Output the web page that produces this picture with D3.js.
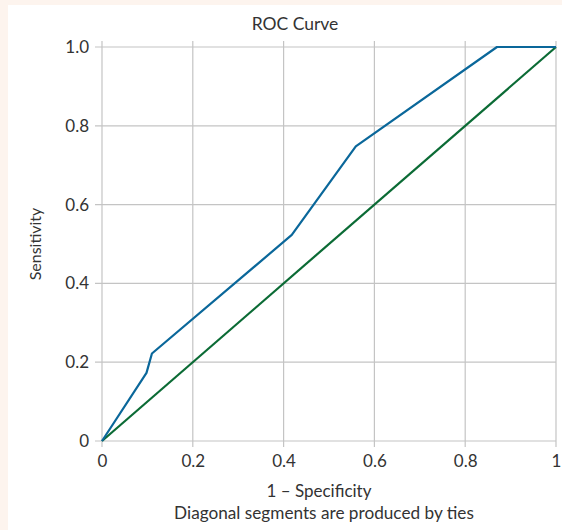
<!DOCTYPE html>
<html>
<head>
<meta charset="utf-8">
<script src="https://cdn.jsdelivr.net/npm/d3@7"></script>
<style>
  html, body { margin: 0; padding: 0; background: #fdf4ee; }
  svg { display: block; }
  text { font-family: "Lato", "Open Sans", sans-serif; fill: #333; }
</style>
</head>
<body>
<svg id="chart"></svg>
<script>
// ROC curve points (1 - specificity, sensitivity)
const fpr = [0, 0.098, 0.110, 0.418, 0.559, 0.870, 1];
const tpr = [0, 0.173, 0.222, 0.523, 0.748, 1, 1];
// reference diagonal
const refLine = [0, 1];
const ticks = [0, 0.2, 0.4, 0.6, 0.8, 1];

const width = 562, height = 530;
const margin = { top: 47, right: 6, bottom: 89, left: 102 };

const svg = d3.select("#chart")
    .attr("width", width)
    .attr("height", height);

// white panel on the peach background
svg.append("rect")
    .attr("x", 8)
    .attr("y", 5)
    .attr("width", width - 8)
    .attr("height", height - 5)
    .attr("fill", "#fff");

const x = d3.scaleLinear().domain([0, 1]).range([margin.left, width - margin.right]);
const y = d3.scaleLinear().domain([0, 1]).range([height - margin.bottom, margin.top]);

// grid
const grid = svg.append("g").attr("stroke", "#c4c4c4").attr("stroke-width", 1.2);
grid.selectAll(".gx").data(ticks).join("line")
    .attr("x1", d => x(d)).attr("x2", d => x(d))
    .attr("y1", y(1) - 6).attr("y2", y(0) + 6);
grid.selectAll(".gy").data(ticks).join("line")
    .attr("x1", x(0) - 7).attr("x2", x(1))
    .attr("y1", d => y(d)).attr("y2", d => y(d));

// x axis labels
const xAxis = d3.axisBottom(x).tickValues(ticks).tickSize(0).tickPadding(14)
    .tickFormat(d => d === 0 ? "0" : d === 1 ? "1" : d3.format(".1f")(d));
svg.append("g")
    .attr("transform", `translate(0,${y(0)})`)
    .call(xAxis)
    .call(g => g.select(".domain").remove())
    .call(g => g.selectAll("text").attr("font-size", 17).attr("fill", "#333"));

const yAxis = d3.axisLeft(y).tickValues(ticks).tickSize(0).tickPadding(13)
    .tickFormat(d => d === 0 ? "0" : d3.format(".1f")(d));
svg.append("g")
    .attr("transform", `translate(${x(0)},0)`)
    .call(yAxis)
    .call(g => g.select(".domain").remove())
    .call(g => g.selectAll("text").attr("font-size", 17).attr("fill", "#333"));

// diagonal reference
svg.append("line")
    .attr("x1", x(refLine[0])).attr("y1", y(refLine[0]))
    .attr("x2", x(refLine[1])).attr("y2", y(refLine[1]))
    .attr("stroke", "#0b6b35")
    .attr("stroke-width", 2.2);

// ROC curve
const line = d3.line().x(d => x(d[0])).y(d => y(d[1]));
svg.append("path")
    .datum(d3.zip(fpr, tpr))
    .attr("d", line)
    .attr("fill", "none")
    .attr("stroke", "#0a679a")
    .attr("stroke-width", 2.2)
    .attr("stroke-linejoin", "round");

// titles
svg.append("text")
    .attr("x", 295).attr("y", 30)
    .attr("text-anchor", "middle")
    .attr("font-size", 17.5)
    .text("ROC Curve");

svg.append("text")
    .attr("x", x(0.5) - 10).attr("y", 497)
    .attr("text-anchor", "middle")
    .attr("font-size", 17)
    .text("1 – Specificity");

svg.append("text")
    .attr("x", x(0.5) - 5).attr("y", 519)
    .attr("text-anchor", "middle")
    .attr("font-size", 17.2)
    .text("Diagonal segments are produced by ties");

svg.append("text")
    .attr("transform", `translate(41,${y(0.5)}) rotate(-90)`)
    .attr("text-anchor", "middle")
    .attr("font-size", 16)
    .text("Sensitivity");
</script>
</body>
</html>
